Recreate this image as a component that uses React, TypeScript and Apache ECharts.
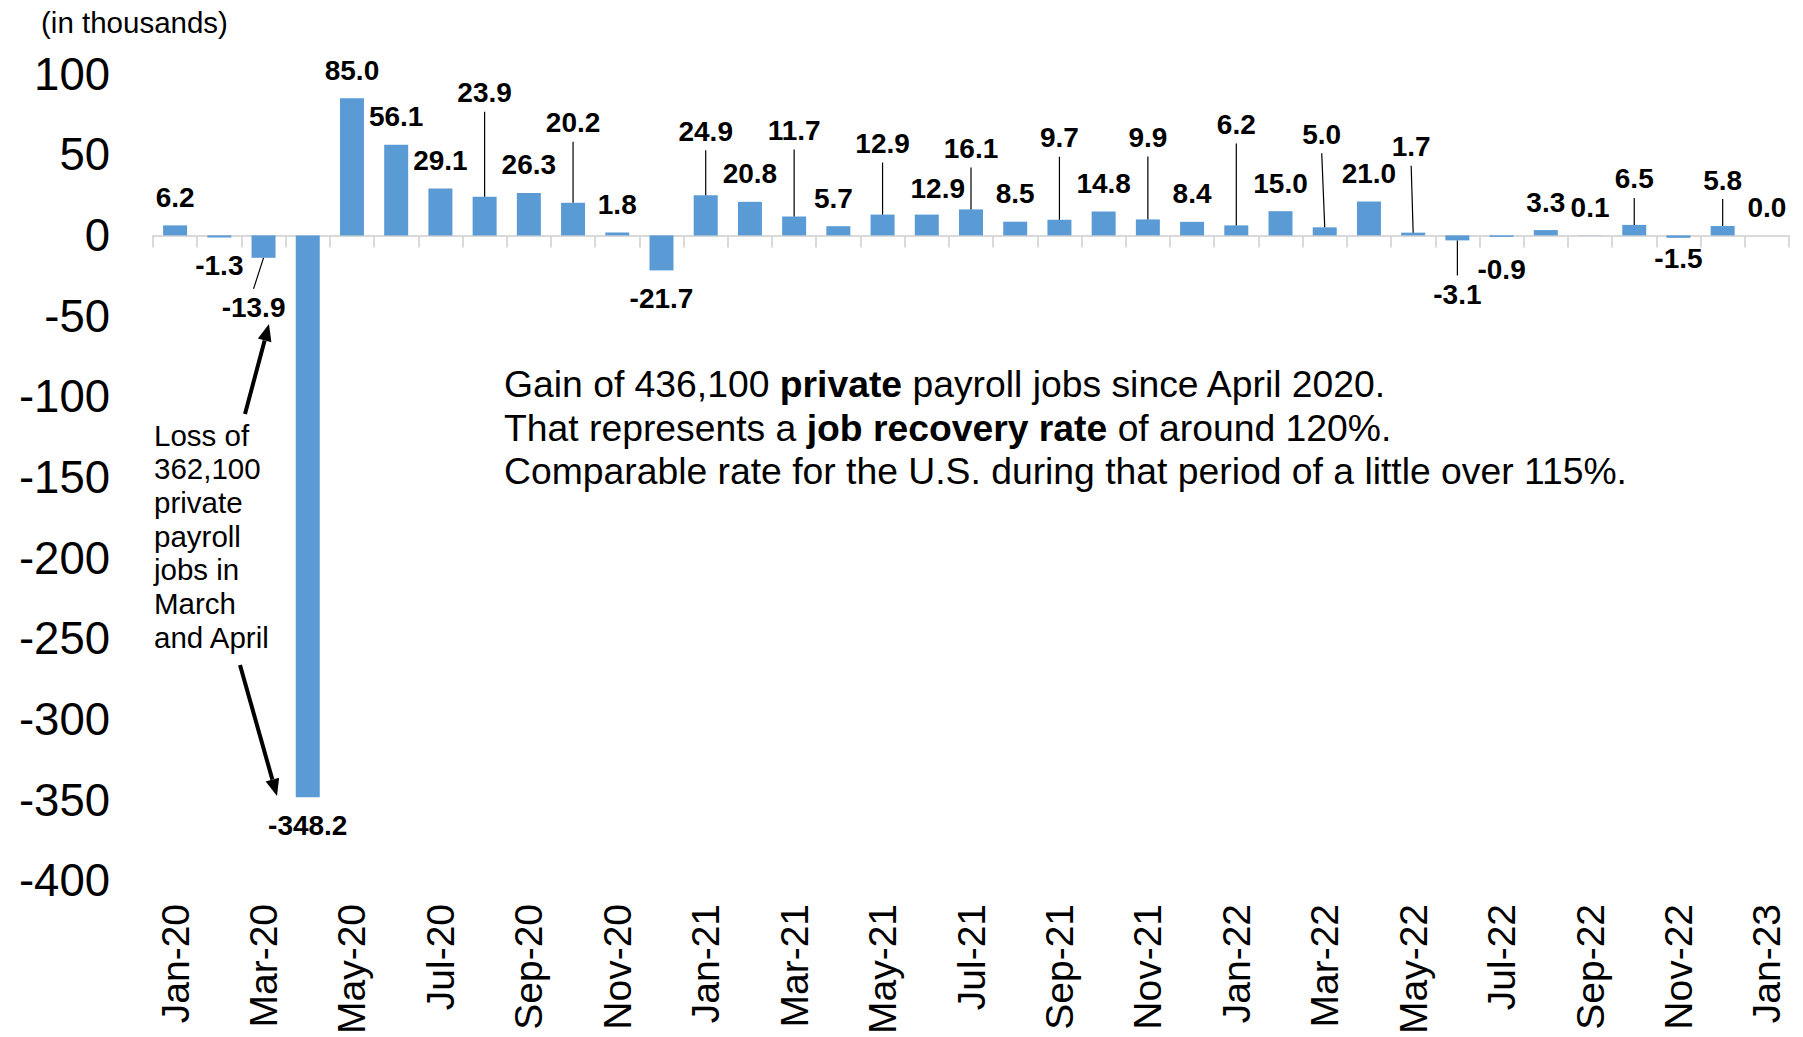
import React, { useEffect, useRef } from 'react';
import * as echarts from 'echarts';

const months = [
  'Jan-20', 'Feb-20', 'Mar-20', 'Apr-20', 'May-20', 'Jun-20', 'Jul-20', 'Aug-20', 'Sep-20', 'Oct-20', 'Nov-20', 'Dec-20',
  'Jan-21', 'Feb-21', 'Mar-21', 'Apr-21', 'May-21', 'Jun-21', 'Jul-21', 'Aug-21', 'Sep-21', 'Oct-21', 'Nov-21', 'Dec-21',
  'Jan-22', 'Feb-22', 'Mar-22', 'Apr-22', 'May-22', 'Jun-22', 'Jul-22', 'Aug-22', 'Sep-22', 'Oct-22', 'Nov-22', 'Dec-22',
  'Jan-23',
];

const jobChanges = [
  6.2, -1.3, -13.9, -348.2, 85.0, 56.1, 29.1, 23.9, 26.3, 20.2, 1.8, -21.7,
  24.9, 20.8, 11.7, 5.7, 12.9, 12.9, 16.1, 8.5, 9.7, 14.8, 9.9, 8.4,
  6.2, 15.0, 5.0, 21.0, 1.7, -3.1, -0.9, 3.3, 0.1, 6.5, -1.5, 5.8,
  0.0,
];

const yMin = -400;
const yMax = 100;
const yStep = 50;

const unitNote = '(in thousands)';
const lossNote = ['Loss of', '362,100', 'private', 'payroll', 'jobs in', 'March', 'and April'];
const gainNote = [
  'Gain of 436,100 {b|private} payroll jobs since April 2020.',
  'That represents a {b|job recovery rate} of around 120%.',
  'Comparable rate for the U.S. during that period of a little over 115%.',
];

// label layout tweaks: index -> [dx, dy, leader line]
const LABEL_SHIFT: Record<number, [number, number, boolean]> = {
  2: [-10, 22, true],
  7: [0, -76, true],
  9: [0, -52, true],
  12: [0, -36, true],
  14: [0, -58, true],
  15: [-5, 0, false],
  16: [0, -43, true],
  17: [11, 2, false],
  18: [0, -33, true],
  20: [0, -54, true],
  22: [0, -54, true],
  24: [0, -73, true],
  26: [-3, -65, true],
  28: [-2, -58, true],
  29: [0, 26, true],
  30: [0, 5, false],
  33: [0, -18, true],
  34: [0, -7, false],
  35: [0, -18, true],
};

const FONT = '"Liberation Sans", Arial, sans-serif';
const BAR_COLOR = '#5B9BD5';
const AXIS_GREY = '#D9D9D9';
const LABEL_GAP = 28;

function arrow(x1: number, y1: number, x2: number, y2: number) {
  const a = Math.atan2(y2 - y1, x2 - x1);
  const L = 17;
  const W = 7;
  const c = Math.cos(a);
  const s = Math.sin(a);
  const bx = x2 - L * c;
  const by = y2 - L * s;
  return [
    { type: 'line', shape: { x1, y1, x2: bx, y2: by }, style: { stroke: '#000', lineWidth: 4 } },
    {
      type: 'polygon',
      shape: { points: [[x2, y2], [bx - W * s, by + W * c], [bx + W * s, by - W * c]] },
      style: { fill: '#000' },
    },
  ];
}

export default function App() {
  const ref = useRef<HTMLDivElement>(null);

  useEffect(() => {
    if (!ref.current) return;
    const chart = echarts.init(ref.current, undefined, { renderer: 'svg' });

    const barData = jobChanges.map((v, i) => {
      const sh = LABEL_SHIFT[i];
      return {
        value: v,
        label: {
          position: v < 0 ? 'bottom' : 'top',
          offset: sh ? [sh[0], sh[1]] : [0, 0],
        },
      };
    });

    const leaderData = jobChanges
      .map((v, i) => [i, v])
      .filter(([i]) => LABEL_SHIFT[i as number] && LABEL_SHIFT[i as number][2]);

    const graphics: any[] = [
      {
        type: 'text',
        x: 41,
        y: 22,
        style: { text: unitNote, fontSize: 29.5, fontFamily: FONT, fill: '#000', verticalAlign: 'middle' },
      },
      ...lossNote.map((t, k) => ({
        type: 'text',
        x: 154,
        y: 435 + k * 33.7,
        style: { text: t, fontSize: 29.5, fontFamily: FONT, fill: '#000', verticalAlign: 'middle' },
      })),
      ...gainNote.map((t, k) => ({
        type: 'text',
        x: 504,
        y: 384 + k * 43.6,
        style: {
          text: t,
          fontSize: 37.3,
          fontFamily: FONT,
          fill: '#000',
          verticalAlign: 'middle',
          rich: { b: { fontSize: 37.3, fontFamily: FONT, fontWeight: 'bold', fill: '#000' } },
        },
      })),
      ...arrow(245, 414, 269, 324),
      ...arrow(240, 665, 277, 796),
    ];

    chart.setOption({
      animation: false,
      backgroundColor: '#fff',
      textStyle: { fontFamily: FONT },
      grid: { left: 153, right: 14, top: 74, height: 808, containLabel: false },
      xAxis: [
        {
          type: 'category',
          data: months,
          position: 'bottom',
          axisLine: { show: false, onZero: false },
          axisTick: { show: false },
          axisLabel: {
            rotate: 90,
            interval: 1,
            fontSize: 39,
            margin: 23,
            color: '#000',
            fontFamily: FONT,
          },
        },
        {
          type: 'category',
          data: months,
          position: 'top',
          axisLine: { show: true, onZero: true, lineStyle: { color: AXIS_GREY, width: 2 } },
          axisTick: { show: true, inside: true, interval: 0, length: 12, lineStyle: { color: AXIS_GREY, width: 2 } },
          axisLabel: { show: false },
        },
      ],
      yAxis: {
        type: 'value',
        min: yMin,
        max: yMax,
        interval: yStep,
        splitLine: { show: false },
        axisLine: { show: false },
        axisTick: { show: false },
        axisLabel: { fontSize: 45.5, color: '#000', margin: 43, fontFamily: FONT },
      },
      series: [
        {
          type: 'bar',
          xAxisIndex: 0,
          data: barData,
          barWidth: 24,
          itemStyle: { color: BAR_COLOR },
          label: {
            show: true,
            distance: 14,
            fontSize: 28,
            fontWeight: 'bold',
            color: '#000',
            fontFamily: FONT,
            formatter: (p: any) => Number(p.value).toFixed(1),
          },
          z: 2,
        },
        {
          type: 'custom',
          xAxisIndex: 0,
          data: leaderData,
          encode: { x: 0, y: 1 },
          silent: true,
          z: 3,
          renderItem: (params: any, api: any) => {
            const i = api.value(0);
            const v = api.value(1);
            const sh = LABEL_SHIFT[i];
            if (!sh) return null;
            const end = api.coord([i, v]);
            const sign = v >= 0 ? -1 : 1;
            const labelCy = end[1] + sign * LABEL_GAP + sh[1];
            const startY = labelCy - sign * 19;
            return {
              type: 'line',
              shape: { x1: end[0] + sh[0], y1: startY, x2: end[0], y2: end[1] },
              style: { stroke: '#000', lineWidth: 1.2 },
            };
          },
        },
      ],
      graphic: graphics,
    });

    return () => chart.dispose();
  }, []);

  return (
    <div
      ref={ref}
      style={{ position: 'absolute', left: 0, top: 0, width: 1803, height: 1037, background: '#fff' }}
    />
  );
}
